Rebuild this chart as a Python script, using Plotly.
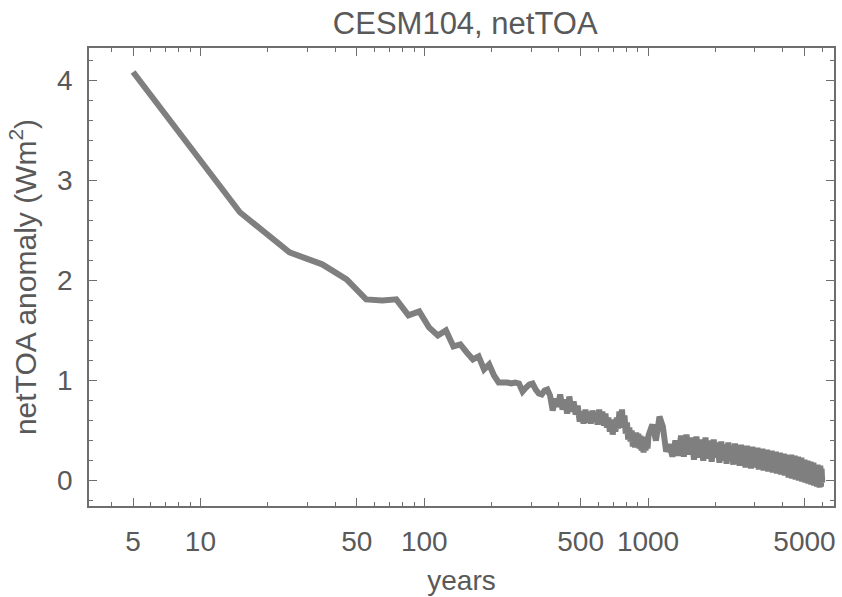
import plotly.graph_objects as go

# decadal means, years 5..995
years_early = list(range(5, 1000, 10))
net_early = [
    4.08, 2.68, 2.28, 2.16, 2.01, 1.81, 1.80, 1.81, 1.65, 1.69,
    1.53, 1.45, 1.50, 1.34, 1.36, 1.28, 1.21, 1.24, 1.11, 1.16,
    1.05, 0.98, 0.98, 0.98, 0.97, 0.98, 0.97, 0.89, 0.93, 0.96,
    0.97, 0.91, 0.87, 0.86, 0.90, 0.91, 0.85, 0.70, 0.82, 0.74,
    0.86, 0.71, 0.81, 0.67, 0.84, 0.69, 0.79, 0.66, 0.75, 0.59,
    0.69, 0.57, 0.71, 0.58, 0.69, 0.57, 0.70, 0.59, 0.68, 0.56,
    0.71, 0.58, 0.69, 0.55, 0.67, 0.53, 0.63, 0.49, 0.61, 0.46,
    0.58, 0.49, 0.63, 0.52, 0.69, 0.54, 0.71, 0.53, 0.65, 0.47,
    0.58, 0.41, 0.53, 0.39, 0.50, 0.34, 0.47, 0.33, 0.48, 0.35,
    0.47, 0.32, 0.45, 0.30, 0.43, 0.28, 0.41, 0.30, 0.44, 0.32,
]

# later years, sampled every 40 years, 1005..6005
years_late = list(range(1005, 6006, 40))
net_late = [
    0.45, 0.56, 0.40, 0.64, 0.54, 0.29, 0.36, 0.24, 0.40, 0.25,
    0.45, 0.24, 0.46, 0.26, 0.43, 0.21, 0.44, 0.23, 0.41, 0.20,
    0.43, 0.22, 0.40, 0.19, 0.41, 0.23, 0.38, 0.18, 0.39, 0.20,
    0.36, 0.17, 0.38, 0.20, 0.34, 0.16, 0.37, 0.18, 0.33, 0.15,
    0.36, 0.16, 0.33, 0.13, 0.35, 0.17, 0.32, 0.12, 0.34, 0.14,
    0.31, 0.13, 0.33, 0.11, 0.30, 0.14, 0.32, 0.10, 0.29, 0.12,
    0.31, 0.09, 0.28, 0.11, 0.30, 0.08, 0.27, 0.10, 0.29, 0.07,
    0.27, 0.08, 0.28, 0.06, 0.26, 0.09, 0.27, 0.05, 0.25, 0.06,
    0.26, 0.03, 0.24, 0.05, 0.26, 0.02, 0.23, 0.04, 0.25, 0.01,
    0.22, 0.03, 0.24, 0.00, 0.21, 0.02, 0.23, -0.01, 0.20, 0.01,
    0.21, -0.02, 0.19, 0.00, 0.20, -0.03, 0.18, -0.01, 0.19, -0.04,
    0.17, -0.02, 0.18, -0.05, 0.16, -0.03, 0.15, -0.06, 0.16, -0.04,
    0.14, -0.07, 0.15, -0.06, 0.12, -0.02,
]

years = years_early + years_late
net_toa = net_early + net_late

x_major = [5, 10, 50, 100, 500, 1000, 5000]
x_major_text = ["5", "10", "50", "100", "500", "1000", "5000"]
x_minor = [4, 6, 7, 8, 9, 20, 30, 40, 60, 70, 80, 90, 200, 300, 400,
           600, 700, 800, 900, 2000, 3000, 4000, 6000]
y_major = [0, 1, 2, 3, 4]
y_minor = [-0.2, 0.2, 0.4, 0.6, 0.8, 1.2, 1.4, 1.6, 1.8, 2.2, 2.4, 2.6, 2.8,
           3.2, 3.4, 3.6, 3.8, 4.2]

TXT = "#595959"
AX = "#6e6e6e"
FONT = "Liberation Sans, Arial, sans-serif"

fig = go.Figure(go.Scatter(
    x=years, y=net_toa, mode="lines",
    line=dict(color="#7f7f7f", width=6, simplify=False),
))

fig.update_layout(
    width=842, height=597,
    margin=dict(l=89, r=6, t=48, b=88),
    plot_bgcolor="white", paper_bgcolor="white",
    showlegend=False,
    font=dict(family=FONT, color=TXT, size=27),
    title=dict(text="CESM104, netTOA", x=0.505, xanchor="center",
               xref="paper", y=0.962, yanchor="middle",
               font=dict(size=31, color=TXT, family=FONT)),
)

fig.update_xaxes(
    type="log", range=[0.502, 3.831],
    showline=True, linecolor=AX, linewidth=1.5, mirror="allticks",
    ticks="inside", ticklen=8, tickwidth=1.3, tickcolor=AX,
    tickmode="array", tickvals=x_major, ticktext=x_major_text,
    minor=dict(tickmode="array", tickvals=x_minor, ticks="inside",
               ticklen=4, tickwidth=1.1, tickcolor=AX, showgrid=False),
    showgrid=False, zeroline=False,
    tickfont=dict(size=28, color=TXT),
    ticklabelstandoff=10,
    title=dict(text="years", font=dict(size=28, color=TXT), standoff=14),
)

fig.update_yaxes(
    range=[-0.253, 4.32],
    showline=True, linecolor=AX, linewidth=1.5, mirror="allticks",
    ticks="inside", ticklen=8, tickwidth=1.3, tickcolor=AX,
    tickmode="array", tickvals=y_major, ticktext=[str(v) for v in y_major],
    minor=dict(tickmode="array", tickvals=y_minor, ticks="inside",
               ticklen=4, tickwidth=1.1, tickcolor=AX, showgrid=False),
    showgrid=False, zeroline=False,
    tickfont=dict(size=28, color=TXT),
    ticklabelstandoff=9,
    title=dict(text="netTOA anomaly (Wm<sup>2</sup>)",
               font=dict(size=30, color=TXT), standoff=12),
)

fig.write_html("out.html")
